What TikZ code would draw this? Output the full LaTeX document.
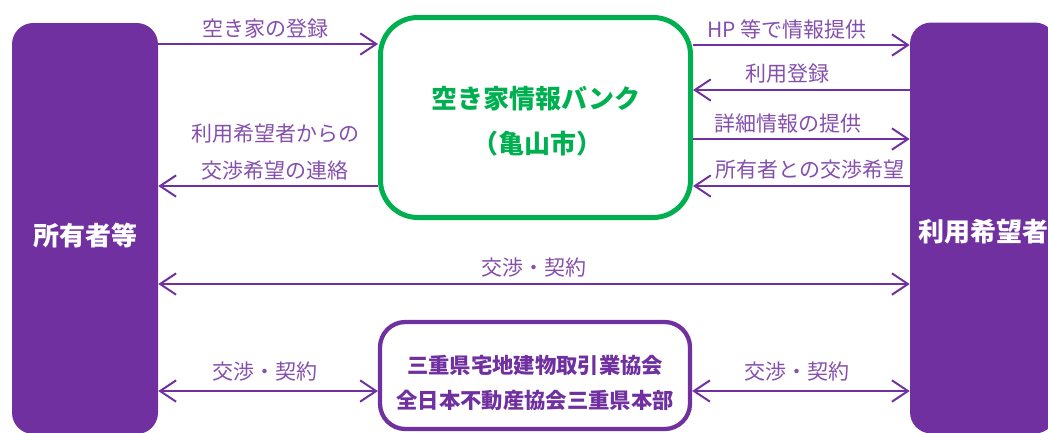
\documentclass[tikz,border=0pt]{standalone}
\usepackage{fontspec}
\setmainfont{Noto Sans CJK JP}
\usetikzlibrary{arrows.meta}
\definecolor{pur}{HTML}{7030A0}
\definecolor{grn}{HTML}{00B050}
\begin{document}
\begin{tikzpicture}[x=0.75pt,y=-0.75pt,
  lbl/.style={text=pur!85, font=\fontsize{15.75}{27.75}\selectfont, inner sep=0pt, align=center},
  tipv/.tip={Straight Barb[length=12pt,width=16pt]},
  arr/.style={draw=pur, line width=1.5pt, -tipv},
  darr/.style={draw=pur, line width=1.5pt, tipv-tipv},
  sidebox/.style={fill=pur, rounded corners=16pt, minimum width=146*0.75pt, minimum height=411*0.75pt, inner sep=0pt},
  sidetext/.style={text=white, font=\fontsize{19.5}{22}\selectfont\bfseries, inner sep=0pt},
  bankbox/.style={draw=grn, line width=3.75pt, rounded corners=28pt, minimum width=310*0.75pt, minimum height=200*0.75pt, inner sep=0pt},
  banktext/.style={text=grn, font=\fontsize{19.5}{22}\selectfont\bfseries, inner sep=0pt},
  assocbox/.style={draw=pur, line width=3.2pt, rounded corners=19pt, minimum width=310*0.75pt, minimum height=107*0.75pt, inner sep=0pt},
  assoctext/.style={text=pur, font=\fontsize{16}{26.25}\selectfont\bfseries, inner sep=0pt, align=center}
]
\useasboundingbox (0,0) rectangle (1048,432);

% boxes
\node[sidebox] (owner) at (85,228.5) {};
\node[sidetext] (ownerT) at (85,236) {所有者等};
\node[sidebox] (user) at (983,228) {};
\node[sidetext] (userT) at (983,232) {利用希望者};
\node[bankbox] (bank) at (535.5,117.5) {};
\node[banktext] (bankT1) at (536,99) {空き家情報バンク};
\node[banktext] (bankT2) at (537,144) {（亀山市）};
\node[assocbox] (assoc) at (535,375.5) {};
\node[assoctext] (assocT) at (535,382.5) {三重県宅地建物取引業協会\\全日本不動産協会三重県本部};

% connectors
\draw[arr] (owner.east |- 0,44) -- (bank.west |- 0,44);
\draw[arr] (bank.west |- 0,186) -- (owner.east |- 0,186);
\draw[arr] (bank.east |- 0,45) -- (user.west |- 0,45);
\draw[arr] (user.west |- 0,90) -- (bank.east |- 0,90);
\draw[arr] (bank.east |- 0,139) -- (user.west |- 0,139);
\draw[arr] (user.west |- 0,186) -- (bank.east |- 0,186);
\draw[darr] (owner.east |- 0,284) -- (user.west |- 0,284);
\draw[darr] (owner.east |- 0,391) -- (assoc.west |- 0,391);
\draw[darr] (assoc.east |- 0,391) -- (user.west |- 0,391);

% labels
\node[lbl] (l1) at (265,29) {空き家の登録};
\node[lbl] (l2) at (275,152.5) {利用希望者からの\\交渉希望の連絡};
\node[lbl] (l3) at (787,29) {HP 等で情報提供};
\node[lbl] (l4) at (787,73.5) {利用登録};
\node[lbl] (l5) at (788,124) {詳細情報の提供};
\node[lbl] (l6) at (810,170) {所有者との交渉希望};
\node[lbl] (l7) at (534,268) {交渉・契約};
\node[lbl] (l8) at (265,372) {交渉・契約};
\node[lbl] (l9) at (797,372) {交渉・契約};
\end{tikzpicture}
\end{document}
